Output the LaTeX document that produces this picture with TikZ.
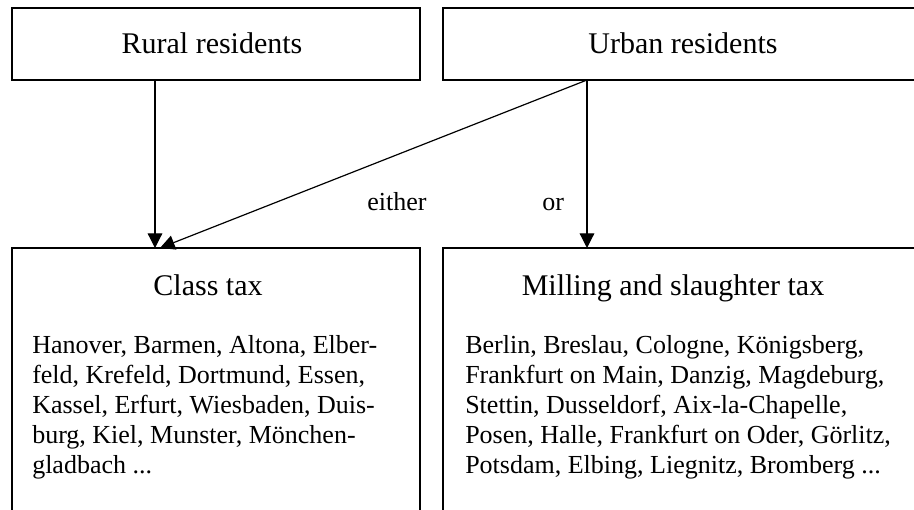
\documentclass[tikz,border=0pt]{standalone}
\usepackage{fontspec}
\setmainfont{Liberation Serif}
\usetikzlibrary{arrows.meta}
\begin{document}
\begin{tikzpicture}[x=0.75pt,y=-0.75pt,
  box/.style={draw,line width=1.1pt,inner sep=0pt,outer sep=0pt,anchor=north west},
  topbox/.style={box,minimum height=54pt,font=\fontsize{22.5}{27}\selectfont},
  lowbox/.style={box,minimum height=211.5pt},
  title/.style={anchor=base,inner sep=0pt,font=\fontsize{22.5}{27}\selectfont},
  body/.style={anchor=base west,inner sep=0pt,font=\fontsize{19.5}{22.5}\selectfont},
  lab/.style={anchor=base west,inner sep=0pt,font=\fontsize{19.5}{22.5}\selectfont},
  arr/.style={line width=0.9pt,-{Triangle[length=11pt,width=11pt]}}]
\useasboundingbox (0,0) rectangle (914,510);
\clip (0,0) rectangle (914,510);
% boxes
\node[topbox,minimum width=306pt] (rural) at (12,8) {};
\node[topbox,minimum width=360pt] (urban) at (443,8) {};
\node[lowbox,minimum width=306pt] (class) at (12,248) {};
\node[lowbox,minimum width=360pt] (mill) at (443,248) {};
% titles
\node[title] (rt) at (212,54) {Rural residents};
\node[title] (ut) at (683,54) {Urban residents};
\node[title] (ct) at (208,295) {Class tax};
\node[title] (mt) at (673,295) {Milling and slaughter tax};
% bodies
\node[body] (cb) at (32,353) {\parbox[t]{390pt}{\fontsize{19.5}{22.5}\selectfont\raggedright
Hanover, Barmen, Altona, Elber-\\
feld, Krefeld, Dortmund, Essen,\\
Kassel, Erfurt, Wiesbaden, Duis-\\
burg, Kiel, Munster, Mönchen-\\
gladbach ...}};
\node[body] (mb) at (465,353) {\parbox[t]{390pt}{\fontsize{19.5}{22.5}\selectfont\raggedright
Berlin, Breslau, Cologne, Königsberg,\\
Frankfurt on Main, Danzig, Magdeburg,\\
Stettin, Dusseldorf, Aix-la-Chapelle,\\
Posen, Halle, Frankfurt on Oder, Görlitz,\\
Potsdam, Elbing, Liegnitz, Bromberg ...}};
% connectors
\draw[arr] ([xshift=107.25pt]rural.south west) -- ([xshift=107.25pt]class.north west);
\draw[arr] ([xshift=108pt]urban.south west) -- ([xshift=111pt]class.north west);
\draw[arr] ([xshift=108pt]urban.south west) -- ([xshift=108pt]mill.north west);
% labels
\node[lab] (either) at (367,210) {either};
\node[lab] (or) at (542,210) {or};
\end{tikzpicture}
\end{document}
